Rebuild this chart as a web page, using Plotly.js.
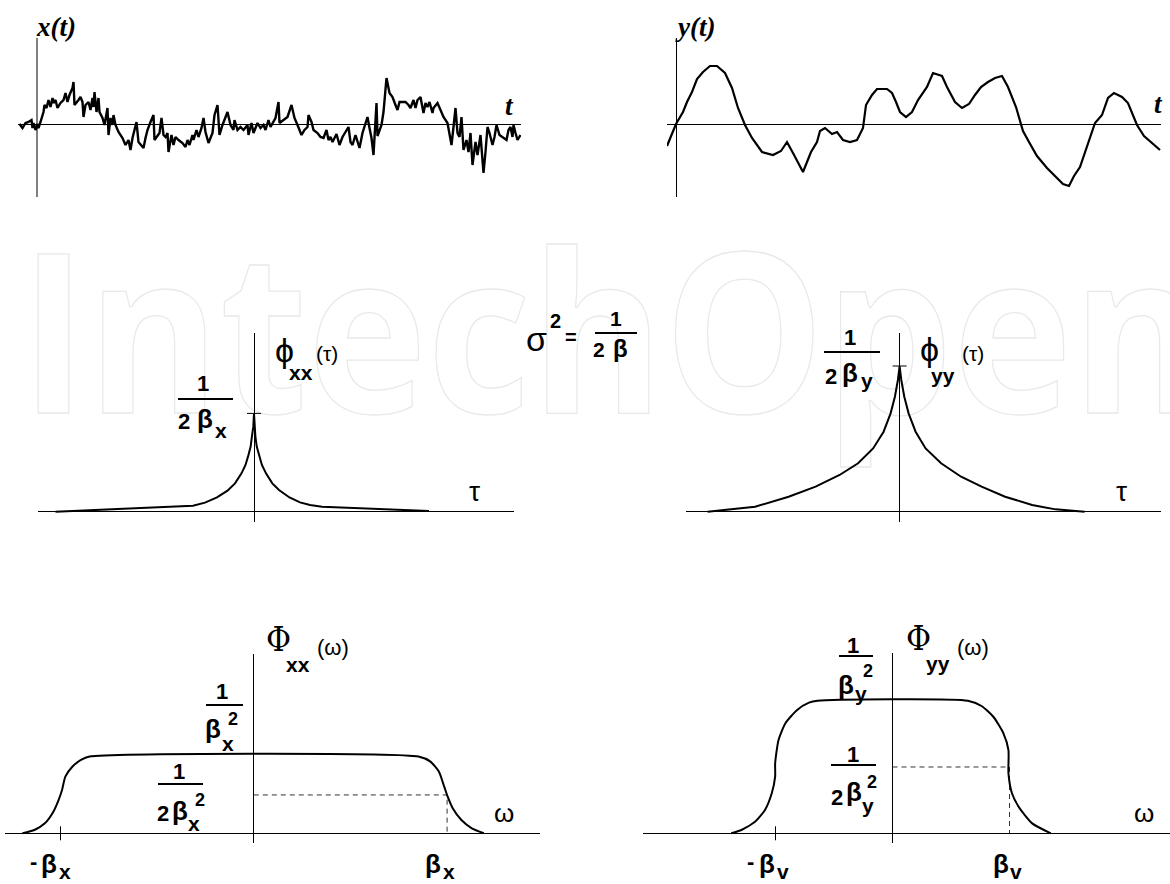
<!DOCTYPE html>
<html>
<head>
<meta charset="utf-8">
<script src="https://cdn.plot.ly/plotly-3.0.1.min.js"></script>
<style>
  html, body { margin: 0; padding: 0; background: #fff; }
  #chart { width: 1170px; height: 884px; }
</style>
</head>
<body>
<div id="chart"></div>
<script>
// ---------- data ----------
// x(t): wide-band random signal (time in samples, amplitude in arbitrary units)
const xT = [-17,-14,-11,-8,-5,-4,-3,-1,1,2,4,7,8,10,12,14,16,17,19,21,
  24,27,29,31,33,36,37,38,42,44,46,47,49,52,54,56,57,58,60,62,
  63,66,68,71,72,74,76,77,79,82,86,89,92,94,96,100,102,105,107,109,
  111,114,117,118,121,123,125,127,129,131,132,135,137,139,142,146,149,151,153,156,
  157,160,162,165,167,169,172,176,178,180,181,183,186,191,194,197,198,201,204,207,
  211,212,215,217,221,224,227,229,232,234,236,239,242,243,247,251,255,258,261,265,
  268,271,272,275,277,281,284,287,290,292,294,296,300,303,306,309,312,314,316,319,
  321,323,326,331,333,335,337,340,341,345,347,350,353,356,359,361,363,369,372,374,
  377,379,381,384,387,389,391,393,396,397,401,404,407,411,413,415,417,419,421,423,
  425,427,430,432,434,436,439,441,444,447,449,451,453,456,458,460,463,467,470,472,
  474,476,477,479,481,484];
const xV = [0,-4,1,2,4,-4,1,-6,0,-4,2,12,19,16,24,17,26,21,24,16,
  21,24,31,22,29,36,42,19,24,27,22,7,19,22,14,26,17,32,12,26,
  12,6,-1,16,-11,6,-1,9,-1,-8,-14,-21,-16,-26,-14,2,-18,-22,-24,-14,
  -6,2,9,-16,-11,-9,6,-11,-13,-9,-28,-11,-21,-13,-16,-19,-23,-16,-21,-11,
  -16,-6,-13,-4,6,-8,-19,-9,9,16,19,-11,-1,12,-1,-6,4,-6,-3,-6,
  -1,-11,1,-9,1,-4,-1,-6,4,-3,1,6,22,1,4,7,19,6,-1,-11,
  -6,-3,9,2,-6,-9,-13,-14,-6,-16,-13,-18,-10,-21,-13,-8,-3,-18,-21,-11,
  -18,-24,-9,7,-4,-14,-31,21,-12,-1,12,46,31,27,19,14,22,22,19,16,
  24,16,24,27,11,21,17,22,11,16,21,14,7,1,-9,-21,-3,16,-9,-13,
  7,-26,-16,-28,-9,-41,-18,-31,-11,-49,-28,-3,-9,-21,-13,-1,-11,-14,-16,-6,
  -3,-13,-1,-9,-16,-11];

// y(t): narrow-band (smoother) signal
const yT = [-9,-4,0,7,11,16,21,27,34,41,49,56,62,69,76,86,97,105,111,117,
  122,127,131,135,141,144,149,156,161,167,174,181,187,190,196,201,211,216,220,224,
  230,236,242,251,257,266,271,279,286,293,299,305,312,319,326,332,340,347,353,361,
  371,379,387,393,398,404,411,419,426,432,438,446,452,457,461,468,476,484];
const yV = [-22,-9,0,12,22,32,45,52,58,58,51,36,16,-1,-14,-28,-31,-27,-18,-29,
  -38,-48,-38,-28,-18,-7,-4,-10,-8,-16,-18,-16,-4,19,29,35,35,31,22,12,
  7,12,24,37,51,48,37,22,16,20,29,37,42,46,48,37,17,-7,-18,-32,
  -44,-52,-60,-62,-52,-43,-23,1,9,26,31,27,21,9,-1,-12,-19,-26];

// correlation functions, normalised to the value 1/(2β) at τ = 0
const tauXX = [-3.97,-1.43,-1.22,-0.98,-0.74,-0.53,-0.38,-0.25,-0.17,-0.12,-0.068,-0.042,-0.014,0,
  0.008,0.028,0.056,0.104,0.158,0.24,0.366,0.50,0.71,0.92,1.12,1.36,3.5];
const phiXX = [0,0.051,0.061,0.092,0.145,0.214,0.288,0.39,0.475,0.56,0.66,0.763,0.865,1,
  0.865,0.763,0.66,0.56,0.475,0.39,0.288,0.22,0.145,0.095,0.068,0.051,0.007];
const tauYY = [-3.84,-2.89,-2.22,-1.68,-1.20,-0.83,-0.53,-0.32,-0.18,-0.094,-0.034,0,
  0.034,0.094,0.18,0.32,0.52,0.83,1.23,1.64,2.11,2.65,3.12,3.70];
const phiYY = [0,0.034,0.103,0.172,0.252,0.332,0.434,0.549,0.675,0.789,0.904,1,
  0.904,0.789,0.675,0.549,0.434,0.332,0.24,0.172,0.103,0.046,0.016,0];

// spectral densities, ω in units of β, normalised to the plateau 1/β²
const omXX = [-1.197,-1.135,-1.081,-1.037,-1.010,-0.992,-0.975,-0.939,-0.894,-0.85,
  0.852,0.914,0.958,0.985,1.003,1.029,1.074,1.128,1.19];
const PhiXX = [0,0.043,0.13,0.282,0.434,0.565,0.738,0.868,0.956,1,
  1,0.934,0.803,0.608,0.477,0.326,0.173,0.065,0];
const omYY = [-1.378,-1.291,-1.175,-1.090,-1.032,-1.003,-1.003,-0.974,-0.915,-0.815,-0.714,-0.641,
  0.644,0.761,0.862,0.948,0.991,0.991,1.021,1.078,1.194,1.353];
const PhiYY = [0,0.025,0.087,0.176,0.302,0.427,0.528,0.704,0.83,0.93,0.985,1,
  1,0.96,0.879,0.754,0.628,0.452,0.302,0.2,0.075,0];

// reference levels
const peakLevel = 1;    // 1/(2β) for φ, 1/β² for Φ
const halfLevel = 0.5;  // 1/(2β²)
const betaMark = 1;     // ω = β

// ---------- geometry ----------
const W = 1170, H = 884;
// box: [left, right, top, bottom] px; o: origin px; k: px per unit
const panels = [
  {box:[18,521,38,197],        o:[36.5,124],   k:[1,1],        vc:'#808080', vw:2, hc:'#000', hw:1},
  {box:[667,1161,38,197],      o:[676,124],    k:[1,1],        vc:'#000', vw:1, hc:'#000', hw:1},
  {box:[38,514,333,522],       o:[254,511.7],  k:[50,98.3],    vc:'#000', vw:1, hc:'#000', hw:1},
  {box:[685.6,1160.6,333,522], o:[899.6,511.7],k:[50,145.7],   vc:'#000', vw:1, hc:'#000', hw:1},
  {box:[5,540,654,843.3],      o:[253.8,833.3],k:[193.3,76.7], vc:'#000', vw:1, hc:'#000', hw:1},
  {box:[643.4,1170,653.3,843.3],o:[892.5,833.3],k:[117,132.6], vc:'#000', vw:1, hc:'#000', hw:1}
];

// faint publisher mark behind the figure
const markSvg = '<svg xmlns="http://www.w3.org/2000/svg" width="1170" height="884" viewBox="0 0 1170 884">' +
  '<text x="20" y="413" font-family="Open Sans, Roboto, sans-serif" font-weight="700" font-size="222" ' +
  'textLength="1185" lengthAdjust="spacingAndGlyphs" fill="none" stroke="#e9e9e9" stroke-width="1.3">IntechOpen</text></svg>';

const layout = {
  width: W, height: H,
  margin: {l:0, r:0, t:0, b:0},
  paper_bgcolor: '#fff',
  plot_bgcolor: 'rgba(0,0,0,0)',
  showlegend: false,
  annotations: [],
  shapes: [],
  images: [{
    source: 'data:image/svg+xml;charset=utf-8,' + encodeURIComponent(markSvg),
    xref: 'paper', yref: 'paper', x: 0, y: 1, sizex: 1, sizey: 1,
    xanchor: 'left', yanchor: 'top', sizing: 'stretch', layer: 'below'
  }]
};

panels.forEach((p, i) => {
  const n = i === 0 ? '' : String(i + 1);
  const [L, R, T, B] = p.box, [ox, oy] = p.o, [kx, ky] = p.k;
  const common = {showgrid:false, showticklabels:false, ticks:'', showline:false, zeroline:true, fixedrange:true};
  layout['xaxis' + n] = Object.assign({}, common, {
    domain: [L / W, R / W], range: [(L - ox) / kx, (R - ox) / kx], anchor: 'y' + n,
    zerolinecolor: p.vc, zerolinewidth: p.vw
  });
  layout['yaxis' + n] = Object.assign({}, common, {
    domain: [1 - B / H, 1 - T / H], range: [(oy - B) / ky, (oy - T) / ky], anchor: 'x' + n,
    zerolinecolor: p.hc, zerolinewidth: p.hw
  });
});

// ---------- traces ----------
function curve(x, y, n, w, shape) {
  return {type:'scatter', mode:'lines', x, y, xaxis:'x' + n, yaxis:'y' + n,
    line:{color:'#000', width:w, shape: shape || 'linear', smoothing: 0.6}, hoverinfo:'skip'};
}
function dashed(x, y, n) {
  return {type:'scatter', mode:'lines', x, y, xaxis:'x' + n, yaxis:'y' + n,
    line:{color:'#333', width:1, dash:'5px,4px'}, hoverinfo:'skip'};
}
function tick(x, y, n, sym) {
  return {type:'scatter', mode:'markers', x:[x], y:[y], xaxis:'x' + n, yaxis:'y' + n,
    marker:{symbol:sym, size:10, color:'#000', line:{color:'#000', width:1}}, hoverinfo:'skip'};
}

const data = [
  curve(xT, xV, '', 2.4),
  curve(yT, yV, '2', 2.2),
  curve(tauXX, phiXX, '3', 2),
  tick(0, peakLevel, '3', 'line-ew'),
  curve(tauYY, phiYY, '4', 2),
  tick(0, peakLevel, '4', 'line-ew'),
  dashed([0, betaMark, betaMark], [halfLevel, halfLevel, 0], '5'),
  curve(omXX, PhiXX, '5', 2, 'spline'),
  tick(-betaMark, 0, '5', 'line-ns'),
  dashed([0, betaMark, betaMark], [halfLevel, halfLevel, 0], '6'),
  curve(omYY, PhiYY, '6', 2, 'spline'),
  tick(-betaMark, 0, '6', 'line-ns')
];

// ---------- labels ----------
const SANS = 'Liberation Sans, Arial, sans-serif';
const SERIF = 'Liberation Serif, Times New Roman, serif';
const PHI = 'DejaVu Serif Condensed, DejaVu Serif, serif';
function label(x, y, text, size, opt) {
  opt = opt || {};
  layout.annotations.push({
    xref:'paper', yref:'paper', x: x / W, y: 1 - y / H, xanchor:'center', yanchor:'middle',
    text: text, showarrow:false, borderpad: 0,
    font:{family: opt.family || SANS, size: size, color:'#000',
          weight: opt.weight === undefined ? 700 : opt.weight, style: opt.style || 'normal'}
  });
}
function bar(x0, x1, y) {
  layout.shapes.push({type:'line', xref:'paper', yref:'paper',
    x0: x0 / W, x1: x1 / W, y0: 1 - y / H, y1: 1 - y / H, line:{color:'#000', width:1.8}});
}

// time signals
label(56, 27, 'x(t)', 27, {family: SERIF, style: 'italic'});
label(509, 106, 't', 27, {family: SERIF, style: 'italic'});
label(695, 27, 'y(t)', 27, {family: SERIF, style: 'italic'});
label(1158, 104, 't', 27, {family: SERIF, style: 'italic'});

// σ² = 1/(2β)
label(536, 339, 'σ', 34, {weight: 400});
label(555, 321, '2', 20);
label(571, 337, '=', 20);
label(616, 318, '1', 21);
bar(595, 637, 333);
label(599, 350, '2', 21);
label(620, 349, 'β', 24);

// φxx(τ)
label(203, 383, '1', 22);
bar(178, 233, 399);
label(184, 421, '2', 22);
label(205, 419, 'β', 26);
label(221, 430, 'x', 21);
label(284, 350, 'ϕ', 34, {weight: 400});
label(301, 372, 'xx', 21);
label(327, 353, '(τ)', 21, {weight: 400});
label(474, 491, 'τ', 28, {weight: 400});

// φyy(τ)
label(850, 337, '1', 22);
bar(824, 880, 352);
label(831, 376, '2', 22);
label(850, 373, 'β', 26);
label(867, 380, 'y', 21);
label(929, 349, 'ϕ', 34, {weight: 400});
label(943, 375, 'yy', 21);
label(973, 353, '(τ)', 21, {weight: 400});
label(1121, 491, 'τ', 28, {weight: 400});

// Φxx(ω)
label(278, 639, 'Φ', 34, {family: PHI, weight: 400});
label(298, 664, 'xx', 21);
label(333, 647, '(ω)', 22, {weight: 400});
label(222, 691, '1', 22);
bar(206, 243, 705);
label(213, 729, 'β', 26);
label(228, 743, 'x', 21);
label(233, 719, '2', 18);
label(179, 771, '1', 22);
bar(158, 203, 784);
label(163, 813, '2', 22);
label(180, 811, 'β', 26);
label(194, 823, 'x', 21);
label(200, 800, '2', 18);
label(504, 813, 'ω', 26, {weight: 400});
label(33, 861, '-', 22);
label(49, 864, 'β', 26);
label(65, 871, 'x', 21);
label(433, 864, 'β', 26);
label(449, 871, 'x', 21);

// Φyy(ω)
label(853, 645, '1', 22);
bar(839, 873, 656);
label(846, 685, 'β', 26);
label(861, 693, 'y', 21);
label(868, 671, '2', 18);
label(918, 638, 'Φ', 34, {family: PHI, weight: 400});
label(938, 663, 'yy', 21);
label(973, 647, '(ω)', 22, {weight: 400});
label(853, 754, '1', 22);
bar(831, 876, 765);
label(837, 797, '2', 22);
label(854, 792, 'β', 26);
label(868, 805, 'y', 21);
label(872, 782, '2', 18);
label(1144, 813, 'ω', 26, {weight: 400});
label(750, 861, '-', 22);
label(767, 864, 'β', 26);
label(783, 871, 'v', 21);
label(1001, 864, 'β', 26);
label(1016, 871, 'v', 21);

Plotly.newPlot('chart', data, layout, {displayModeBar:false, staticPlot:true});
</script>
</body>
</html>
